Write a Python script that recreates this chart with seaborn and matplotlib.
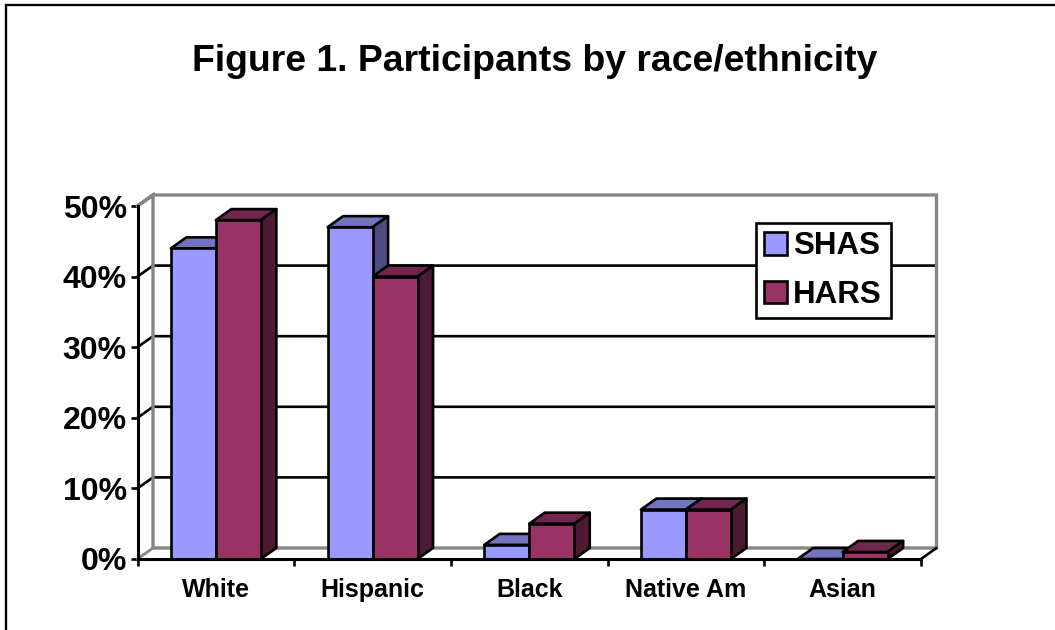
import matplotlib
matplotlib.use("Agg")
import matplotlib.pyplot as plt
from matplotlib.colors import to_rgb
from matplotlib.lines import Line2D
from matplotlib.patches import Polygon
import numpy as np
import pandas as pd
import seaborn as sns

categories = ["White", "Hispanic", "Black", "Native Am", "Asian"]
shas = [44, 47, 2, 7, 0]
hars = [48, 40, 5, 7, 1]
series_names = ["SHAS", "HARS"]
y_ticks = [0, 10, 20, 30, 40, 50]
y_labels = ["0%", "10%", "20%", "30%", "40%", "50%"]
title = "Figure 1. Participants by race/ethnicity"

colors = {"SHAS": "#9999FF", "HARS": "#993366"}
grey = "#868686"
lw = 1.9
# fake 3D depth, in data units
dx = 0.099
dy = 1.56

sns.set_style("white")
plt.rcParams["font.family"] = ["Liberation Sans", "DejaVu Sans"]
plt.rcParams["font.weight"] = "bold"
plt.rcParams["text.color"] = "black"
plt.rcParams["xtick.color"] = "black"
plt.rcParams["ytick.color"] = "black"

df = pd.DataFrame({
    "category": categories * 2,
    "value": shas + hars,
    "series": [series_names[0]] * 5 + [series_names[1]] * 5,
})

fig = plt.figure(figsize=(10.55, 6.3), dpi=100)
W, H = 1055, 630
ax = fig.add_axes([137.5 / W, 1 - 559 / H, (921 - 137.5) / W, (559 - 206) / H])
ax.patch.set_alpha(0)

sns.barplot(data=df, x="category", y="value", hue="series", palette=colors, saturation=1,
            width=0.574, gap=0, edgecolor="black", linewidth=lw, ax=ax, zorder=3)
ax.set_xlim(-0.5, 4.5)
ax.set_ylim(0, 50)
ax.set_xlabel("")
ax.set_ylabel("")


def shade(color, k):
    return tuple(c * k for c in to_rgb(color))


# top and side faces taken from the bars seaborn drew
for cont, name, z in zip(ax.containers, series_names, (2, 2.5)):
    for bar in cont:
        x0, x1 = bar.get_x(), bar.get_x() + bar.get_width()
        top = bar.get_height()
        ax.add_patch(Polygon([(x0, top), (x0 + dx, top + dy), (x1 + dx, top + dy), (x1, top)],
                             closed=True, facecolor=shade(colors[name], 0.75), edgecolor="black",
                             linewidth=lw, joinstyle="round", clip_on=False, zorder=z))
        ax.add_patch(Polygon([(x1, top), (x1 + dx, top + dy), (x1 + dx, dy), (x1, 0)],
                             closed=True, facecolor=shade(colors[name], 0.5), edgecolor="black",
                             linewidth=lw, joinstyle="round", clip_on=False, zorder=z))

# back wall, floor edge and gridlines
x_left, x_right = ax.get_xlim()
y_top = y_ticks[-1]
for y in y_ticks[1:-1]:
    ax.plot([x_left, x_left + dx, x_right + dx], [y, y + dy, y + dy], color="black",
            lw=lw, clip_on=False, zorder=1)
ax.plot([x_left, x_left + dx, x_right + dx, x_right + dx, x_left + dx, x_left + dx, x_left],
        [y_top, y_top + dy, y_top + dy, dy, dy, y_top + dy, y_top],
        color=grey, lw=2.4, clip_on=False, zorder=1.5, solid_joinstyle="miter")
ax.plot([x_left, x_left + dx], [0, dy], color=grey, lw=2.0, clip_on=False, zorder=1.5)
ax.plot([x_right, x_right + dx], [0, dy], color="black", lw=lw, clip_on=False, zorder=1.6)

# axes and ticks
sns.despine(ax=ax, top=True, right=True)
for side in ("left", "bottom"):
    ax.spines[side].set_color("black")
    ax.spines[side].set_linewidth(lw + 0.3)
    ax.spines[side].set_zorder(4)
ax.set_yticks(y_ticks)
ax.set_yticklabels(y_labels, fontsize=23, fontweight="bold")
ax.tick_params(axis="y", left=True, length=4.7, width=lw, color="black", pad=3)
ax.set_xticks(np.arange(-0.5, 5), minor=True)
ax.tick_params(axis="x", which="minor", bottom=True, length=5, width=lw, color="black")
ax.tick_params(axis="x", which="major", bottom=False, labelsize=18, pad=10)
for lab in ax.get_xticklabels():
    lab.set_fontweight("bold")

sns.move_legend(ax, loc="center", bbox_to_anchor=(823 / W, 1 - 270.5 / H),
                bbox_transform=fig.transFigure, title=None, frameon=True, fancybox=False,
                framealpha=1, edgecolor="black", fontsize=22.5, handlelength=0.72, handleheight=0.72,
                handletextpad=0.2, labelspacing=0.58, borderpad=0.28, borderaxespad=0)
leg = ax.get_legend()
leg.get_frame().set_linewidth(lw)
for t in leg.get_texts():
    t.set_fontweight("bold")
for h in leg.legend_handles:
    h.set_edgecolor("black")
    h.set_linewidth(lw)

fig.text(534.5 / W, 1 - 61.5 / H, title, ha="center", va="center", fontsize=26.9, fontweight="bold")

# outer frame, only left and top show
fig.add_artist(Line2D([6 / W, 6 / W, 1], [0, 1 - 5 / H, 1 - 5 / H], color="black", lw=1.7,
                      transform=fig.transFigure, solid_joinstyle="miter"))

fig.savefig("out.png", dpi=100)
plt.close(fig)
